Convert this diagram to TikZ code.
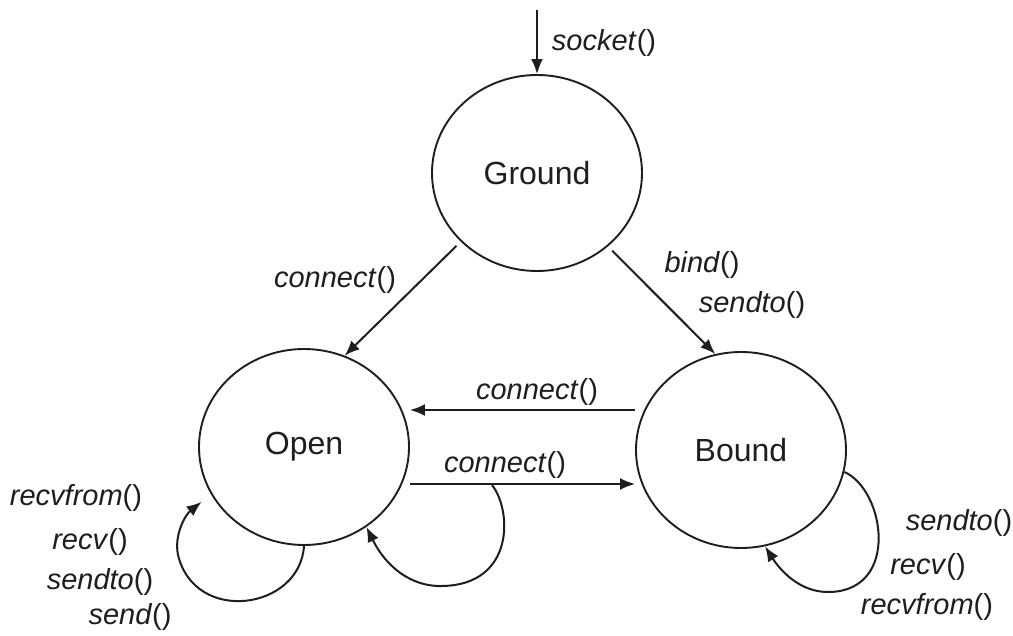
\documentclass[tikz,border=0pt]{standalone}
\usepackage{fontspec}
\setmainfont{Liberation Sans}
\usetikzlibrary{arrows.meta,shapes.geometric}
\definecolor{ink}{HTML}{1E1E1E}
\tikzset{
  state/.style={ellipse,draw=ink,line width=1.9pt,minimum width=210pt,minimum height=196pt,inner sep=0pt,
    font=\fontsize{32}{36}\selectfont,text=ink},
  lbl/.style={font=\fontsize{29}{33}\selectfont,text=ink,inner sep=0pt},
  conn/.style={draw=ink,line width=2pt,-{Latex[length=15pt,width=12pt]}},
}
\newcommand{\fn}[1]{\textit{#1}()}
\begin{document}
\begin{tikzpicture}[x=1pt,y=-1pt]
\useasboundingbox[fill=white] (0,0) rectangle (1013,636);
\node[state] (G) at (537,173) {Ground};
\node[state] (O) at (304,447) {Open};
\node[state] (B) at (741,450) {Bound};
% socket arrow
\coordinate (s0) at (537,10);
\draw[conn] (s0) -- (G.north);
\node[lbl] (ls) at (604,43) {\fn{socket}};
% diagonals
\draw[conn,shorten <=6pt] (G.222) -- (O.66);
\node[lbl] (lc1) at (335,280) {\fn{connect}};
\draw[conn,shorten <=6pt] (G.314) -- (B.105);
\node[lbl] (lb) at (702,265) {\fn{bind}};
\node[lbl] (lst) at (752,305) {\fn{sendto}};
% horizontals
\coordinate (top) at (0,410);
\coordinate (bot) at (0,484);
\draw[conn] (B.west |- top) -- (O.east |- top);
\node[lbl] (lc2) at (537,392) {\fn{connect}};
\draw[conn] (O.east |- bot) -- (B.west |- bot);
\node[lbl] (lc3) at (505,465) {\fn{connect}};
% open right loop
\coordinate (lp) at (492,485);
\draw[conn] (lp) .. controls (512,510) and (515,585) .. (442,586)
  .. controls (410,587) and (385,565) .. (O.-52);
% open left loop
\draw[conn,shorten >=12pt] (O.-90) .. controls (300,610) and (195,625) .. (178,555)
  .. controls (174,535) and (185,515) .. (O.207);
\node[lbl] (l1) at (76,498) {\fn{recvfrom}};
\node[lbl] (l2) at (90,542) {\fn{recv}};
\node[lbl] (l3) at (100,582) {\fn{sendto}};
\node[lbl] (l4) at (130,617) {\fn{send}};
% bound loop
\draw[conn] (B.-12) .. controls (885,490) and (900,590) .. (830,592)
  .. controls (800,593) and (780,570) .. (B.-76);
\node[lbl] (r1) at (959,523) {\fn{sendto}};
\node[lbl] (r2) at (928,567) {\fn{recv}};
\node[lbl] (r3) at (927,607) {\fn{recvfrom}};
\end{tikzpicture}
\end{document}
